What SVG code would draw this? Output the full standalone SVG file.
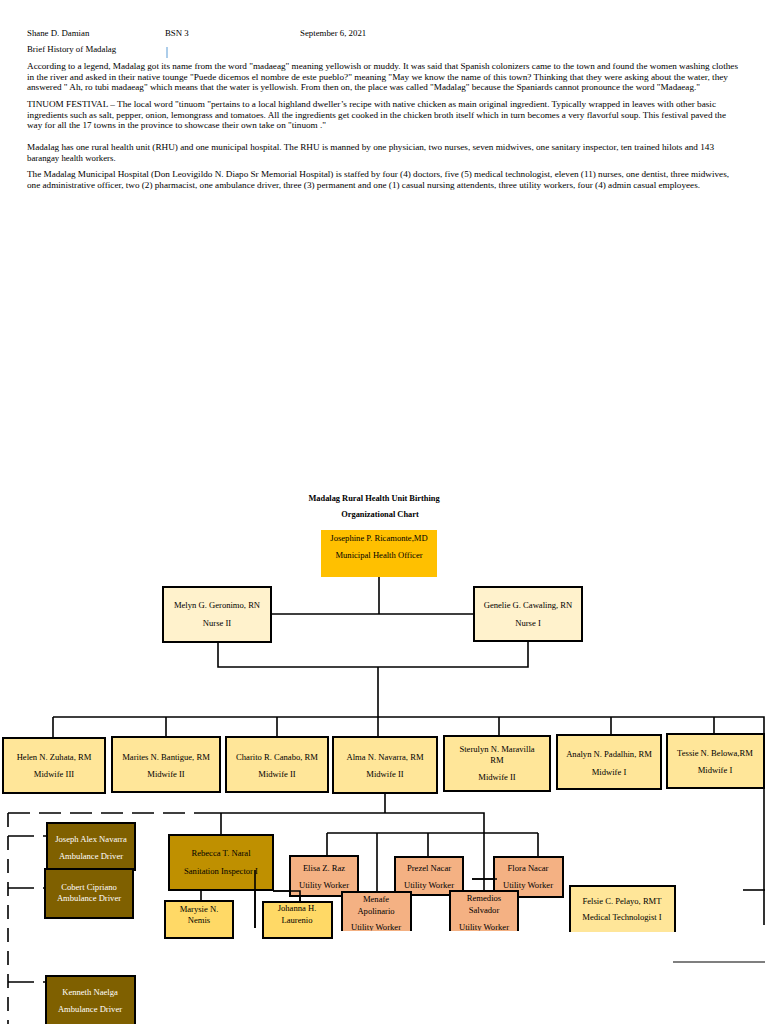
<svg xmlns="http://www.w3.org/2000/svg" width="768" height="1024" viewBox="0 0 768 1024">
<style>
.t{font-family:"Liberation Serif","Times New Roman",serif;font-size:8.8px;fill:#000}
.c{font-family:"Liberation Serif","Times New Roman",serif;font-size:8.6px;fill:#000;text-anchor:middle}
.w{fill:#fff}
.h{font-family:"Liberation Serif","Times New Roman",serif;font-size:8.4px;font-weight:bold;fill:#000;text-anchor:middle}
.bx{stroke:#000;stroke-width:2}
.ln{stroke:#000;stroke-width:1.6;fill:none}
.dh{stroke:#000;stroke-width:1.6;fill:none;stroke-dasharray:22,9}
.dv{stroke:#000;stroke-width:1.6;fill:none;stroke-dasharray:14,9}
.mh{fill:#FFC000}
.nu{fill:#FFF2CC}
.mw{fill:#FFE699}
.am{fill:#7F6000}
.si{fill:#BF9000}
.yl{fill:#FFD966}
.uw{fill:#F4B183}
</style>
<defs>
<clipPath id="cut"><rect x="0" y="0" width="768" height="931"/></clipPath>
</defs>
<rect width="768" height="1024" fill="#fff"/>
<g id="document-text">
<text class="t" x="27" y="36">Shane D. Damian</text>
<text class="t" x="165" y="36">BSN 3</text>
<text class="t" x="300" y="36">September 6, 2021</text>
<line x1="167" y1="47" x2="167" y2="58" stroke="#5B9BD5" stroke-width="1"/>
<text class="t" x="27" y="52">Brief History of Madalag</text>
<text class="t" x="27" y="69" textLength="711" lengthAdjust="spacingAndGlyphs">According to a legend, Madalag got its name from the word "madaeag" meaning yellowish or muddy. It was said that Spanish colonizers came to the town and found the women washing clothes</text>
<text class="t" x="27" y="79.5" textLength="701" lengthAdjust="spacingAndGlyphs">in the river and asked in their native tounge "Puede dicemos el nombre de este pueblo?" meaning "May we know the name of this town? Thinking that they were asking about the water, they</text>
<text class="t" x="27" y="90" textLength="673" lengthAdjust="spacingAndGlyphs">answered " Ah, ro tubi madaeag" which means that the water is yellowish. From then on, the place was called "Madalag" because the Spaniards cannot pronounce the word "Madaeag."</text>
<text class="t" x="27" y="107" textLength="689" lengthAdjust="spacingAndGlyphs">TINUOM FESTIVAL – The local word "tinuom "pertains to a local highland dweller’s recipe with native chicken as main original ingredient. Typically wrapped in leaves with other basic</text>
<text class="t" x="27" y="117.5" textLength="699" lengthAdjust="spacingAndGlyphs">ingredients such as salt, pepper, onion, lemongrass and tomatoes. All the ingredients get cooked in the chicken broth itself which in turn becomes a very flavorful soup. This festival paved the</text>
<text class="t" x="27" y="128" textLength="299" lengthAdjust="spacingAndGlyphs">way for all the 17 towns in the province to showcase their own take on "tinuom ."</text>
<text class="t" x="27" y="150" textLength="687" lengthAdjust="spacingAndGlyphs">Madalag has one rural health unit (RHU) and one municipal hospital. The RHU is manned by one physician, two nurses, seven midwives, one sanitary inspector, ten trained hilots and 143</text>
<text class="t" x="27" y="161">barangay health workers.</text>
<text class="t" x="27" y="176.5" textLength="702" lengthAdjust="spacingAndGlyphs">The Madalag Municipal Hospital (Don Leovigildo N. Diapo Sr Memorial Hospital) is staffed by four (4) doctors, five (5) medical technologist, eleven (11) nurses, one dentist, three midwives,</text>
<text class="t" x="27" y="187.5" textLength="673" lengthAdjust="spacingAndGlyphs">one administrative officer, two (2) pharmacist, one ambulance driver, three (3) permanent and one (1) casual nursing attendents, three utility workers, four (4) admin casual employees.</text>
</g>
<g id="chart-title">
<text class="h" x="374" y="501">Madalag Rural Health Unit Birthing</text>
<text class="h" x="380" y="517">Organizational Chart</text>
</g>
<g id="connectors">
<path class="ln" d="M379 577V614M271 614H474M218 642V667H528V641M378 667V717M53 717H764V925M53 717V738M166 717V737M277 717V737M378 717V737M499 717V736M611 717V735M714 717V734"/>
<path class="ln" d="M385 793V813M200 813H484V891M221 813V835M327 833H538M327 833V856M377 833V892M428 833V857M538 833V857M472 879H497"/>
<path class="ln" d="M201 890V901M255 870V928M273 891H300V902"/>
<path class="dh" d="M8 813H200"/>
<path class="dv" d="M8 813V1024"/>
<path class="dh" d="M8 836H47M8 888H45M8 982H46" style="stroke-dasharray:26,9"/>
<path class="ln" d="M743 890H765"/>
<path d="M673 962H765" stroke="#555" stroke-width="1.5"/>
</g>
<g id="n-josephine"><rect class="mh" x="321" y="530" width="116" height="47"/><text class="c" x="379" y="541">Josephine P. Ricamonte,MD</text><text class="c" x="379" y="558">Municipal Health Officer</text></g>
<g id="n-melyn"><rect class="bx nu" x="163" y="587" width="108" height="55"/><text class="c" x="217" y="608">Melyn G. Geronimo, RN</text><text class="c" x="217" y="626">Nurse II</text></g>
<g id="n-genelie"><rect class="bx nu" x="474" y="587" width="108" height="54"/><text class="c" x="528" y="608">Genelie G. Cawaling, RN</text><text class="c" x="528" y="626">Nurse I</text></g>
<g id="n-helen"><rect class="bx mw" x="3" y="738" width="102" height="55"/><text class="c" x="54" y="760">Helen N. Zuhata, RM</text><text class="c" x="54" y="777">Midwife III</text></g>
<g id="n-marites"><rect class="bx mw" x="112" y="737" width="108" height="55"/><text class="c" x="166" y="760">Marites N. Bantigue, RM</text><text class="c" x="166" y="777">Midwife II</text></g>
<g id="n-charito"><rect class="bx mw" x="226" y="737" width="102" height="55"/><text class="c" x="277" y="760">Charito R. Canabo, RM</text><text class="c" x="277" y="777">Midwife II</text></g>
<g id="n-alma"><rect class="bx mw" x="333" y="737" width="104" height="56"/><text class="c" x="385" y="760">Alma N. Navarra, RM</text><text class="c" x="385" y="777">Midwife II</text></g>
<g id="n-sterulyn"><rect class="bx mw" x="444" y="736" width="106" height="55"/><text class="c" x="497" y="752">Sterulyn N. Maravilla</text><text class="c" x="497" y="763">RM</text><text class="c" x="497" y="780">Midwife II</text></g>
<g id="n-analyn"><rect class="bx mw" x="557" y="735" width="104" height="54"/><text class="c" x="609" y="757">Analyn N. Padalhin, RM</text><text class="c" x="609" y="775">Midwife I</text></g>
<g id="n-tessie"><rect class="bx mw" x="667" y="734" width="97" height="54"/><text class="c" x="715" y="756">Tessie N. Belowa,RM</text><text class="c" x="715" y="773">Midwife I</text></g>
<g id="n-joseph"><rect class="bx am" x="47" y="823" width="88" height="47"/><text class="c w" x="91" y="842">Joseph Alex Navarra</text><text class="c w" x="91" y="859">Ambulance Driver</text></g>
<g id="n-cobert"><rect class="bx am" x="45" y="869" width="88" height="49"/><text class="c w" x="89" y="890">Cobert Cipriano</text><text class="c w" x="89" y="901">Ambulance Driver</text></g>
<g id="n-kenneth"><rect class="bx am" x="46" y="976" width="89" height="52"/><text class="c w" x="90" y="995">Kenneth Naelga</text><text class="c w" x="90" y="1012">Ambulance Driver</text></g>
<g id="n-rebecca"><rect class="bx si" x="169" y="835" width="104" height="55"/><text class="c" x="221" y="856">Rebecca T. Naral</text><text class="c" x="221" y="874">Sanitation Inspector I</text></g>
<g id="n-marysie"><rect class="bx yl" x="165" y="901" width="68" height="37"/><text class="c" x="199" y="912">Marysie N.</text><text class="c" x="199" y="923">Nemis</text></g>
<g id="n-johanna"><rect class="bx yl" x="263" y="902" width="69" height="36"/><text class="c" x="297" y="911">Johanna H.</text><text class="c" x="297" y="923">Laurenio</text></g>
<g id="n-elisa"><rect class="bx uw" x="290" y="856" width="68" height="40"/><text class="c" x="324" y="871">Elisa Z. Raz</text><text class="c" x="324" y="888">Utility Worker</text></g>
<g id="n-prezel"><rect class="bx uw" x="395" y="857" width="68" height="38"/><text class="c" x="429" y="871">Prezel Nacar</text><text class="c" x="429" y="888">Utility Worker</text></g>
<g id="n-flora"><rect class="bx uw" x="494" y="857" width="69" height="40"/><text class="c" x="528" y="871">Flora Nacar</text><text class="c" x="528" y="888">Utility Worker</text></g>
<g id="n-menafe" clip-path="url(#cut)"><rect class="uw" x="342" y="892" width="69" height="39"/><path class="bx" fill="none" d="M342 931V892H411V931"/><text class="c" x="376" y="902">Menafe</text><text class="c" x="376" y="914">Apolinario</text><text class="c" x="376" y="930">Utility Worker</text></g>
<g id="n-remedios" clip-path="url(#cut)"><rect class="uw" x="450" y="891" width="68" height="40"/><path class="bx" fill="none" d="M450 931V891H518V931"/><text class="c" x="484" y="901">Remedios</text><text class="c" x="484" y="913">Salvador</text><text class="c" x="484" y="930">Utility Worker</text></g>
<g id="n-felsie"><rect class="mw" x="570" y="886" width="105" height="46"/><path class="bx" fill="none" d="M570 932V886H675V932"/><text class="c" x="622" y="904">Felsie C. Pelayo, RMT</text><text class="c" x="622" y="920">Medical Technologist I</text></g>
<g id="overlay-lines"><path class="ln" d="M255 870V928M273 891H300V902M472 879H497"/></g>
</svg>
